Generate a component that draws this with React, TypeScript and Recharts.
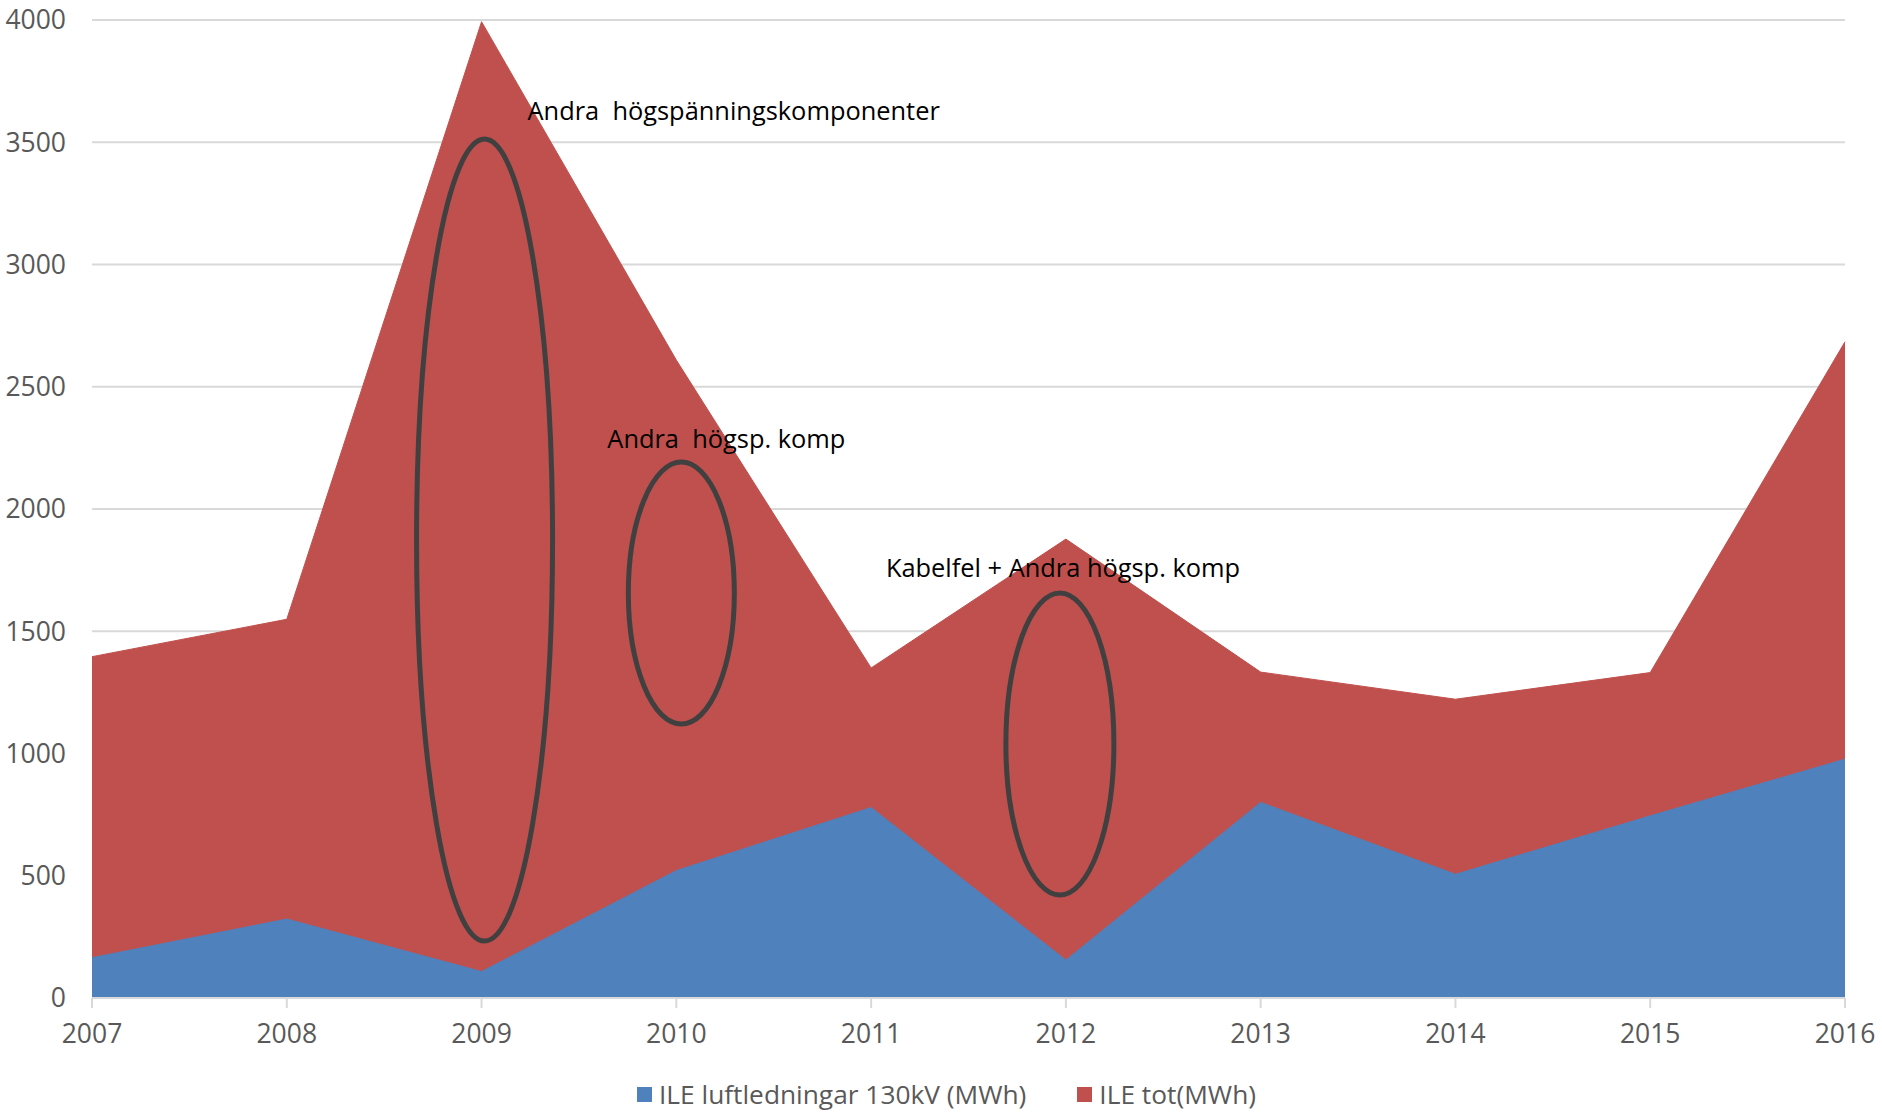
import React from "react";
import {
  Area,
  AreaChart,
  CartesianGrid,
  Legend,
  ReferenceDot,
  XAxis,
  YAxis,
} from "recharts";

// years on the x axis
const years = ["2007", "2008", "2009", "2010", "2011", "2012", "2013", "2014", "2015", "2016"];
// ILE luftledningar 130kV (MWh)
const luftValues = [165, 323, 108, 521, 779, 155, 800, 506, 745, 977];
// ILE tot (MWh)
const totValues = [1396, 1549, 3993, 2609, 1350, 1877, 1333, 1222, 1331, 2684];
const yTicks = [0, 500, 1000, 1500, 2000, 2500, 3000, 3500, 4000];

const LUFT_NAME = "ILE luftledningar 130kV (MWh)";
const TOT_NAME = "ILE tot(MWh)";

// circled regions and their captions, anchored in data space
const circleYears = ["2009", "2010", "2012"];
const circleValues = [1873, 1656, 1039];
const noteYears = ["2009", "2010", "2012"];
const noteValues = [3590, 2250, 1720];
const noteTexts = ["Andra  högspänningskomponenter", "Andra  högsp. komp", "Kabelfel + Andra högsp. komp"];

const circleShape = [
  { dx: 3, rx: 68, ry: 401 },
  { dx: 5, rx: 53, ry: 131 },
  { dx: -6, rx: 54, ry: 151 },
];
const noteShift = [46, -69, -180];

const data = years.map((year, i) => ({
  year,
  luft: luftValues[i],
  tot: totValues[i],
}));

const FONT = '"Open Sans", sans-serif';
const BLUE = "#4f81bd";
const RED = "#c0504d";
const TICK_STYLE = { fill: "#595959", fontSize: 26.5, fontFamily: FONT };

const LegendContent = () => (
  <div
    style={{
      display: "flex",
      justifyContent: "center",
      alignItems: "center",
      height: 36,
      paddingLeft: 36,
      fontFamily: FONT,
      fontSize: 26.3,
      color: "#595959",
    }}
  >
    <span style={{ display: "inline-block", width: 15, height: 15, background: BLUE, marginRight: 7 }} />
    <span style={{ marginRight: 51 }}>{LUFT_NAME}</span>
    <span style={{ display: "inline-block", width: 15, height: 15, background: RED, marginRight: 7 }} />
    <span>{TOT_NAME}</span>
  </div>
);

export default function App() {
  return (
    <div style={{ position: "absolute", left: 0, top: 0, background: "#fff" }}>
      <AreaChart
        width={1882}
        height={1112}
        data={data}
        margin={{ top: 20, right: 37, left: 12, bottom: 0 }}
        style={{ fontFamily: FONT }}
      >
        <CartesianGrid vertical={false} stroke="#d9d9d9" strokeWidth={2} />
        <XAxis
          dataKey="year"
          height={78}
          axisLine={{ stroke: "#d9d9d9", strokeWidth: 2 }}
          tickLine={{ stroke: "#d9d9d9", strokeWidth: 2 }}
          tickSize={10}
          tickMargin={16}
          interval={0}
          tick={TICK_STYLE}
        />
        <YAxis
          width={80}
          domain={[0, 4000]}
          ticks={yTicks}
          axisLine={false}
          tickLine={false}
          tickSize={6}
          tickMargin={20}
          tick={TICK_STYLE}
        />
        <Area
          type="linear"
          dataKey="tot"
          name={TOT_NAME}
          fill={RED}
          fillOpacity={1}
          stroke={RED}
          strokeWidth={1}
          isAnimationActive={false}
        />
        <Area
          type="linear"
          dataKey="luft"
          name={LUFT_NAME}
          fill={BLUE}
          fillOpacity={1}
          stroke={BLUE}
          strokeWidth={1}
          isAnimationActive={false}
        />
        {circleYears.map((yr, i) => (
          <ReferenceDot
            key={`c${i}`}
            x={yr}
            y={circleValues[i]}
            r={0}
            ifOverflow="visible"
            shape={(p: any) => (
              <ellipse
                cx={p.cx + circleShape[i].dx}
                cy={p.cy}
                rx={circleShape[i].rx}
                ry={circleShape[i].ry}
                fill="none"
                stroke="#404040"
                strokeWidth={5}
              />
            )}
          />
        ))}
        {noteYears.map((yr, i) => (
          <ReferenceDot
            key={`n${i}`}
            x={yr}
            y={noteValues[i]}
            r={0}
            ifOverflow="visible"
            shape={(p: any) => (
              <text
                x={p.cx + noteShift[i]}
                y={p.cy}
                fill="#000"
                fontSize={25.4}
                fontFamily={FONT}
                style={{ whiteSpace: "pre" }}
              >
                {noteTexts[i]}
              </text>
            )}
          />
        ))}
        <Legend verticalAlign="bottom" height={36} content={() => <LegendContent />} />
      </AreaChart>
    </div>
  );
}
